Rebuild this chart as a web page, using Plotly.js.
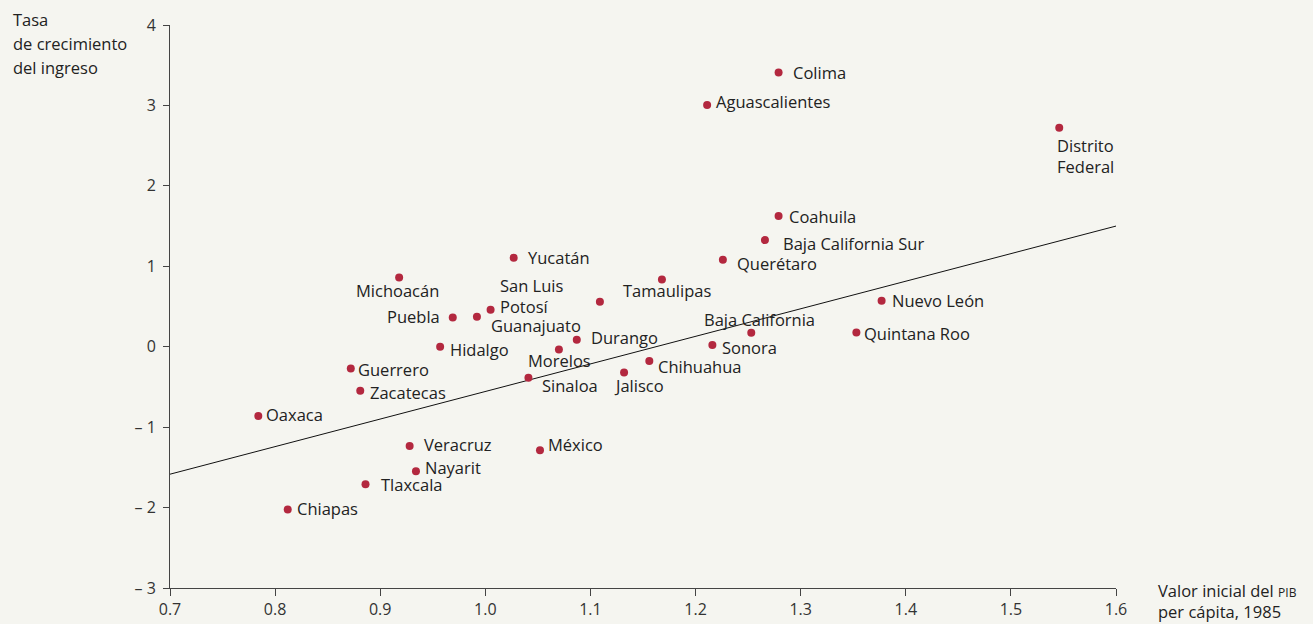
<!DOCTYPE html>
<html>
<head>
<meta charset="utf-8">
<script src="https://cdn.plot.ly/plotly-3.0.1.min.js"></script>
<style>
html,body{margin:0;padding:0;background:#f5f5f0;}
#chart{width:1313px;height:624px;}
</style>
</head>
<body>
<div id="chart"></div>
<script>
// ---- Data ----
const states = ["Colima","Aguascalientes","Distrito<br>Federal","Coahuila","Baja California Sur","Querétaro",
  "Yucatán","Tamaulipas","Michoacán","","San Luis<br>Potosí","Guanajuato","Puebla","Durango","Hidalgo",
  "Baja California","Sonora","Quintana Roo","Nuevo León","Guerrero","Morelos","Chihuahua","Zacatecas",
  "Sinaloa","Jalisco","Oaxaca","Veracruz","México","Nayarit","Tlaxcala","Chiapas"];
const pib1985 = [1.279,1.211,1.546,1.279,1.266,1.226,
  1.027,1.168,0.918,1.109,1.005,0.992,0.969,1.087,0.957,
  1.253,1.216,1.353,1.377,0.872,1.070,1.156,0.881,
  1.041,1.132,0.784,0.928,1.052,0.934,0.886,0.812];
const growth = [3.41,3.005,2.723,1.624,1.326,1.081,
  1.106,0.837,0.862,0.558,0.459,0.372,0.364,0.086,0.0,
  0.173,0.020,0.178,0.571,-0.270,-0.034,-0.179,-0.548,
  -0.387,-0.320,-0.863,-1.233,-1.286,-1.547,-1.709,-2.024];
// fitted regression line (end values)
const fitX = [0.7, 1.6];
const fitY = [-1.585, 1.50];
const yTickVals = [-3,-2,-1,0,1,2,3,4];
const yTickText = ["– 3","– 2","– 1","0","1","2","3","4"];
const xTickVals = [0.7,0.8,0.9,1.0,1.1,1.2,1.3,1.4,1.5,1.6];

// ---- Label placement styles: [xanchor, xshift, yshift] ----
const place = {
  "Colima":["left",12,0], "Aguascalientes":["left",7,4], "Distrito<br>Federal":["left",-4,-28],
  "Coahuila":["left",8,0], "Baja California Sur":["left",16,-3], "Querétaro":["left",12,-4],
  "Yucatán":["left",12,0], "Tamaulipas":["center",5,-11], "Michoacán":["center",-2,-13],
  "San Luis<br>Potosí":["left",7,14], "Guanajuato":["left",12,-9], "Puebla":["right",-11,1],
  "Durango":["left",12,2], "Hidalgo":["left",8,-3], "Baja California":["center",8,13],
  "Sonora":["left",8,-2], "Quintana Roo":["left",6,-1], "Nuevo León":["left",8,0],
  "Guerrero":["left",5,-1], "Morelos":["center",1,-11], "Chihuahua":["left",7,-5],
  "Zacatecas":["left",8,-2], "Sinaloa":["left",12,-8], "Jalisco":["center",15,-13],
  "Oaxaca":["left",6,2], "Veracruz":["left",12,1], "México":["left",6,6],
  "Nayarit":["left",7,4], "Tlaxcala":["left",13,0], "Chiapas":["left",7,1]
};

const FONT = "Open Sans, Noto Sans, sans-serif";
const TXT = "#222222";
const DOT = "#b3283f";
const LSIZE = 16.5;

const annotations = [];
states.forEach((s,i)=>{
  if(!s) return;
  const p = place[s] || ["left",8,0];
  annotations.push({
    x: pib1985[i], y: growth[i], xref:"x", yref:"y",
    text: s, showarrow:false, xanchor:p[0], yanchor:"middle",
    xshift:p[1], yshift:p[2], align:"left",
    font:{family:FONT, size:LSIZE, color:TXT}
  });
});
// axis titles
const yTitle = ["Tasa","de crecimiento","del ingreso"];
yTitle.forEach((t,k)=>{
  annotations.push({xref:"paper", yref:"paper", x:-0.168, y:1, xanchor:"left", yanchor:"middle",
    yshift:(25-19-k*24), text:t, showarrow:false, font:{family:FONT,size:LSIZE,color:TXT}});
});
const xTitle = ['Valor inicial del <span style="font-size:12px">PIB</span>','per cápita, 1985'];
xTitle.forEach((t,k)=>{
  annotations.push({xref:"paper", yref:"paper", x:1.0418, y:0, xanchor:"left", yanchor:"middle",
    yshift:-(590-588+k*21), text:t, showarrow:false, font:{family:FONT,size:LSIZE,color:TXT}});
});

const traces = [
  {x:fitX, y:fitY, mode:"lines", line:{color:"#111", width:1}, hoverinfo:"skip", showlegend:false},
  {x:pib1985, y:growth, mode:"markers", marker:{color:DOT, size:8}, showlegend:false}
];

const layout = {
  width:1313, height:624,
  margin:{l:170, r:197, t:25, b:36},
  paper_bgcolor:"#f5f5f0", plot_bgcolor:"#f5f5f0",
  font:{family:FONT, size:16, color:TXT},
  showlegend:false,
  xaxis:{range:[0.7,1.6], tickvals:xTickVals, tickformat:".1f", showgrid:false, zeroline:false,
    showline:true, linecolor:"#444", linewidth:1, ticks:"outside", ticklen:7, tickcolor:"#444",
    tickfont:{family:FONT,size:16,color:"#333"}},
  yaxis:{range:[-3,4], tickvals:yTickVals, ticktext:yTickText, showgrid:false, zeroline:false,
    showline:true, linecolor:"#444", linewidth:1, ticks:"outside", ticklen:6, tickcolor:"#444",
    ticklabelstandoff:4, tickfont:{family:FONT,size:16,color:"#333"}},
  annotations: annotations
};

Plotly.newPlot("chart", traces, layout, {displayModeBar:false, staticPlot:true});
</script>
</body>
</html>
